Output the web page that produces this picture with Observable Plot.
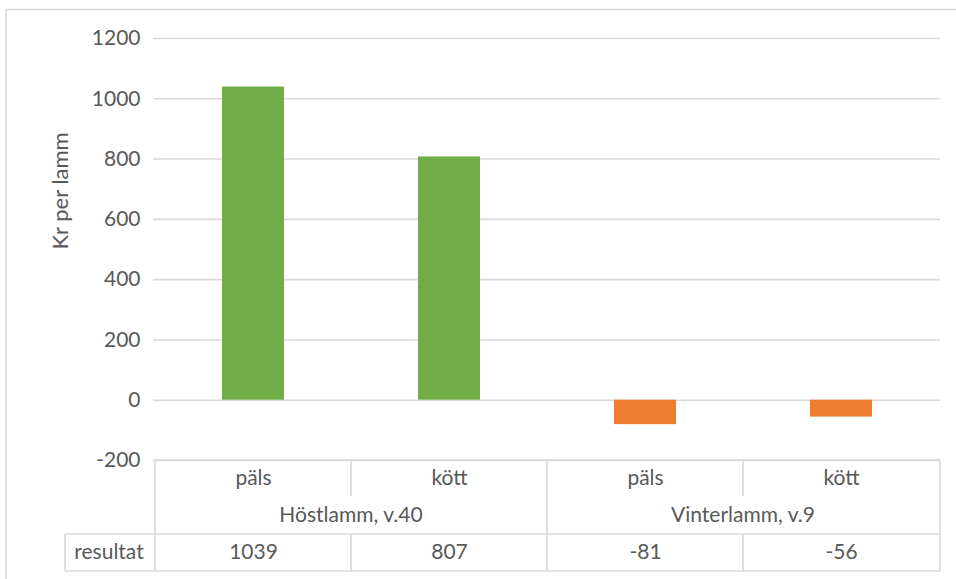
<!DOCTYPE html>
<html>
<head>
<meta charset="utf-8">
<script src="https://cdn.jsdelivr.net/npm/d3@7"></script>
<script src="https://cdn.jsdelivr.net/npm/@observablehq/plot@0.6"></script>
<style>
  html, body { margin: 0; padding: 0; background: #fff; }
  #chart svg { display: block; }
</style>
</head>
<body>
<div id="chart"></div>
<script>
// ---- data ----
const groups  = ["Höstlamm, v.40", "Höstlamm, v.40", "Vinterlamm, v.9", "Vinterlamm, v.9"];
const subcats = ["päls", "kött", "päls", "kött"];
const values  = [1039, 807, -81, -56];
const yTicks  = [-200, 0, 200, 400, 600, 800, 1000, 1200];
const rowLabel = "resultat";
const yLabel = "Kr per lamm";

// ---- styling ----
const W = 956, H = 579;
const GRID = "#d9d9d9";
const TEXT = "#595959";
const POS = "#70AD47", NEG = "#ED7D31";
const FONT = "Lato, 'Open Sans', sans-serif";
const FS = 21;

const data = values.map((v, i) => ({
  key: groups[i] + "|" + subcats[i],
  group: groups[i],
  sub: subcats[i],
  value: v
}));
const keys = data.map(d => d.key);

const chart = Plot.plot({
  width: W,
  height: H,
  marginLeft: 153,
  marginRight: 16,
  marginTop: 38,
  marginBottom: 119,
  style: { fontFamily: FONT, fontSize: FS + "px", color: TEXT, background: "#fff", overflow: "visible" },
  x: { type: "band", domain: keys, padding: 0, axis: null },
  y: { domain: [-200, 1200], axis: null },
  marks: [
    Plot.ruleY(yTicks, { stroke: GRID, strokeWidth: 1.6 }),
    Plot.text(yTicks, { y: d => d, text: d => String(d), frameAnchor: "left", textAnchor: "end", lineAnchor: "middle", dx: -13, fill: TEXT, fontSize: FS }),
    Plot.text([yLabel], { text: d => d, frameAnchor: "left", rotate: -90, lineAnchor: "middle", dx: -93, fill: TEXT, fontSize: 22 }),
    Plot.barY(data.filter(d => d.value >= 0), { x: "key", y: "value", fill: POS, insetLeft: 67, insetRight: 67 }),
    Plot.barY(data.filter(d => d.value < 0), { x: "key", y: "value", fill: NEG, insetLeft: 67, insetRight: 67 }),
    Plot.text(data, { x: "key", text: "sub", frameAnchor: "bottom", lineAnchor: "middle", dy: 18, fill: TEXT, fontSize: FS }),
    Plot.text(data, { x: "key", text: d => String(d.value), frameAnchor: "bottom", lineAnchor: "middle", dy: 92, fill: TEXT, fontSize: FS })
  ]
});

// ---- data table under the plot, positioned from Plot's own scales ----
const xs = chart.scale("x");
const ys = chart.scale("y");
const svg = d3.select(chart);
const xLeft = xs.range[0], xRight = xs.range[1];
const yTop = ys.apply(-200);
const r1 = yTop + 36, r2 = yTop + 74, r3 = yTop + 111;
const labelLeft = 65;

const lines = svg.append("g").attr("stroke", GRID).attr("stroke-width", 1.6).attr("fill", "none");
const seg = (x1, y1, x2, y2) => lines.append("line").attr("x1", x1).attr("y1", y1).attr("x2", x2).attr("y2", y2);

seg(xLeft, yTop, xRight, yTop);
seg(labelLeft, r2, xRight, r2);
seg(labelLeft, r3, xRight, r3);
seg(labelLeft, r2, labelLeft, r3);
keys.forEach((k, i) => {
  const x0 = xs.apply(k);
  const isGroupStart = i === 0 || groups[i] !== groups[i - 1];
  if (isGroupStart) seg(x0, yTop, x0, r3);
  else { seg(x0, yTop, x0, r1); seg(x0, r2, x0, r3); }
});
seg(xRight, yTop, xRight, r3);

// group labels centred over their categories
const uniq = [...new Set(groups)];
uniq.forEach(g => {
  const ks = keys.filter((k, i) => groups[i] === g);
  const x0 = xs.apply(ks[0]);
  const x1 = xs.apply(ks[ks.length - 1]) + xs.bandwidth;
  svg.append("text")
    .attr("x", (x0 + x1) / 2).attr("y", (r1 + r2) / 2).attr("dy", "0.32em")
    .attr("text-anchor", "middle").attr("fill", TEXT)
    .style("font-family", FONT).style("font-size", FS + "px")
    .text(g);
});
svg.append("text")
  .attr("x", (labelLeft + xLeft) / 2).attr("y", (r2 + r3) / 2).attr("dy", "0.32em")
  .attr("text-anchor", "middle").attr("fill", TEXT)
  .style("font-family", FONT).style("font-size", FS + "px")
  .text(rowLabel);

// outer chart-area border
svg.append("rect")
  .attr("x", 6).attr("y", 9.5).attr("width", W).attr("height", H)
  .attr("fill", "none").attr("stroke", GRID).attr("stroke-width", 1.6);

document.getElementById("chart").appendChild(chart);
</script>
</body>
</html>
